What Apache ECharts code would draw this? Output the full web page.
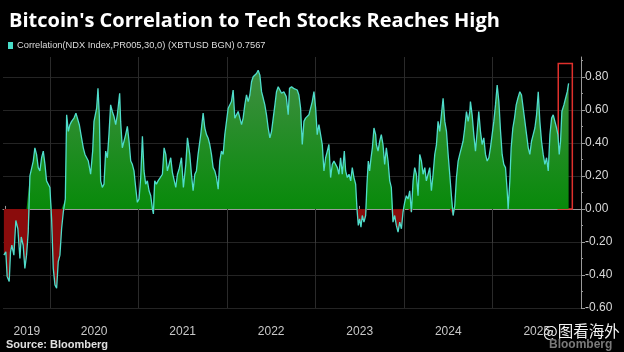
<!DOCTYPE html>
<html>
<head>
<meta charset="utf-8">
<script src="https://cdn.jsdelivr.net/npm/echarts@6/dist/echarts.min.js"></script>
<style>
  html, body { margin: 0; padding: 0; background: #000; }
  #chart { width: 624px; height: 352px; }
</style>
</head>
<body>
<div id="chart"></div>
<script>
const titleText = "Bitcoin's Correlation to Tech Stocks Reaches High"
const seriesName = 'Correlation(NDX Index,PR005,30,0) (XBTUSD BGN) 0.7567'

// x positions as decimal years, one line per stretch of the chart
const yearFrac = [
  2019.480,2019.502,2019.517,2019.540,2019.555,2019.570,2019.593,2019.615,2019.638,2019.661,2019.676,2019.698,2019.717,2019.736,2019.755,2019.774,2019.793,2019.812,2019.830,2019.849,2019.868,2019.887,2019.906,2019.925,2019.944,2019.962,2019.981,2020.000,2020.019,2020.038,2020.057,2020.076,2020.094,2020.113,2020.132,2020.151,2020.174,2020.189,2020.208,2020.226,2020.245,2020.272,2020.294,2020.313,2020.332,2020.351,2020.377,2020.396,2020.415,2020.434,2020.460,2020.483,
  2020.498,2020.528,2020.543,2020.558,2020.573,2020.592,2020.611,2020.630,2020.649,2020.667,2020.686,2020.705,2020.724,2020.743,2020.762,2020.788,2020.799,2020.818,2020.837,2020.856,2020.875,2020.894,2020.913,2020.931,2020.950,2020.969,2020.988,2021.007,2021.026,2021.045,2021.063,2021.082,2021.101,2021.120,2021.139,2021.158,2021.169,2021.184,2021.203,2021.222,2021.244,2021.271,2021.290,2021.309,2021.327,2021.346,2021.365,2021.384,2021.403,2021.422,2021.441,2021.459,2021.486,2021.508,2021.535,2021.554,
  2021.561,2021.580,2021.599,2021.618,2021.637,2021.655,2021.674,2021.704,2021.731,2021.750,2021.769,2021.787,2021.806,2021.825,2021.844,2021.863,2021.882,2021.901,2021.919,2021.938,2021.957,2021.976,2021.995,2022.014,2022.033,2022.051,2022.070,2022.089,2022.108,2022.127,2022.146,2022.165,2022.183,2022.202,2022.221,2022.240,2022.259,2022.278,2022.296,2022.315,2022.334,2022.353,2022.372,2022.391,2022.410,2022.428,2022.447,2022.466,2022.485,2022.504,2022.523,2022.542,2022.560,2022.579,2022.598,2022.617,
  2022.624,2022.643,2022.670,2022.692,2022.707,2022.730,2022.753,2022.775,2022.794,2022.813,2022.832,2022.851,2022.870,2022.888,2022.907,2022.926,2022.945,2022.964,2022.983,2023.002,2023.020,2023.039,2023.058,2023.077,2023.096,2023.115,2023.134,2023.152,2023.171,2023.190,2023.209,2023.228,2023.247,2023.265,2023.284,2023.303,2023.326,2023.341,2023.360,2023.379,2023.398,2023.416,2023.435,2023.454,2023.469,2023.484,2023.499,2023.514,2023.529,2023.548,2023.567,2023.582,2023.597,2023.612,2023.628,2023.643,2023.661,2023.680,
  2023.688,2023.707,2023.726,2023.744,2023.763,2023.782,2023.801,2023.820,2023.839,2023.857,2023.876,2023.895,2023.914,2023.933,2023.952,2023.971,2023.989,2024.008,2024.027,2024.046,2024.065,2024.084,2024.103,2024.121,2024.140,2024.159,2024.178,2024.197,2024.216,2024.235,2024.253,2024.272,2024.291,2024.310,2024.329,2024.348,2024.367,2024.385,2024.404,2024.423,2024.442,2024.461,2024.480,2024.499,2024.517,2024.536,2024.555,2024.574,2024.593,2024.612,2024.630,2024.649,2024.668,2024.687,2024.706,2024.725,2024.744,
  2024.751,2024.770,2024.789,2024.808,2024.827,2024.845,2024.864,2024.883,2024.902,2024.921,2024.940,2024.959,2024.977,2024.996,2025.015,2025.034,2025.053,2025.072,2025.091,2025.109,2025.128,2025.147,2025.166,2025.177,2025.196,2025.211,2025.230,2025.249,2025.268,2025.287,2025.309,2025.328,2025.347,2025.366,2025.385,2025.404,2025.422,2025.441,2025.460,2025.479,2025.498,2025.517,2025.535,2025.554,2025.573,2025.592,2025.611,2025.630,2025.649,2025.668,2025.686,2025.705,2025.724,2025.739,2025.754,2025.769,2025.784,2025.807,2025.826,2025.845,2025.860
]

const corr = [
  -0.28,-0.26,-0.41,-0.44,-0.26,-0.22,-0.28,-0.07,-0.12,-0.30,-0.17,-0.22,-0.36,-0.28,-0.14,0.20,0.19,0.29,0.37,0.33,0.25,0.23,0.31,0.35,0.27,0.17,0.18,0.13,-0.06,-0.36,-0.46,-0.48,-0.32,-0.28,-0.12,-0.02,0.06,0.57,0.47,0.51,0.53,0.55,0.58,0.57,0.51,0.45,0.37,0.33,0.34,0.29,0.21,0.35,
  0.53,0.61,0.73,0.57,0.17,0.13,0.15,0.35,0.31,0.45,0.63,0.59,0.56,0.51,0.57,0.70,0.53,0.37,0.41,0.45,0.50,0.41,0.29,0.27,0.23,0.13,0.04,0.06,0.19,0.44,0.23,0.15,0.17,0.11,0.08,0.00,-0.03,0.17,0.15,0.17,0.16,0.21,0.37,0.33,0.23,0.27,0.31,0.22,0.21,0.13,0.21,0.24,0.31,0.13,0.27,0.43,
  0.43,0.33,0.21,0.11,0.21,0.23,0.33,0.45,0.58,0.49,0.45,0.43,0.39,0.33,0.25,0.23,0.19,0.12,0.29,0.35,0.33,0.45,0.53,0.61,0.62,0.65,0.72,0.55,0.54,0.59,0.55,0.51,0.55,0.63,0.69,0.65,0.69,0.77,0.80,0.79,0.82,0.84,0.81,0.71,0.67,0.63,0.57,0.49,0.43,0.47,0.55,0.63,0.71,0.74,0.72,0.70,
  0.69,0.71,0.68,0.57,0.73,0.74,0.73,0.74,0.72,0.69,0.61,0.39,0.53,0.55,0.56,0.57,0.58,0.65,0.71,0.61,0.45,0.51,0.45,0.39,0.23,0.31,0.35,0.39,0.19,0.27,0.29,0.27,0.25,0.21,0.31,0.21,0.35,0.23,0.19,0.21,0.17,0.25,0.19,0.15,0.00,-0.10,-0.06,-0.11,-0.04,-0.08,-0.04,0.15,0.29,0.23,0.31,0.37,0.49,0.45,
  0.39,0.35,0.41,0.45,0.39,0.27,0.37,0.29,0.17,0.13,-0.08,-0.04,-0.10,-0.14,-0.08,-0.12,-0.02,0.04,0.08,0.06,0.11,-0.02,0.17,0.25,0.21,0.08,0.33,0.29,0.21,0.25,0.17,0.21,0.25,0.11,0.21,0.33,0.39,0.53,0.47,0.57,0.67,0.53,0.47,0.33,0.21,0.08,-0.04,0.02,0.19,0.29,0.33,0.37,0.41,0.49,0.59,0.53,0.59,
  0.65,0.57,0.45,0.35,0.47,0.59,0.47,0.39,0.43,0.33,0.29,0.31,0.37,0.45,0.53,0.63,0.75,0.65,0.47,0.33,0.27,0.25,0.11,0.00,0.17,0.37,0.49,0.55,0.63,0.67,0.71,0.69,0.68,0.53,0.45,0.37,0.33,0.41,0.45,0.49,0.57,0.71,0.53,0.41,0.33,0.27,0.31,0.23,0.45,0.55,0.57,0.53,0.49,0.45,0.33,0.41,0.59,0.63,0.67,0.71,0.76
]

const yearLabelPos = [2019.74, 2020.5, 2021.5, 2022.5, 2023.5, 2024.5, 2025.5]
const yearStarts = [2020, 2021, 2022, 2023, 2024, 2025]
const quarterTicks = [2019.5, 2019.75, 2020.25, 2020.5, 2020.75, 2021.25, 2021.5, 2021.75, 2022.25, 2022.5, 2022.75,
  2023.25, 2023.5, 2023.75, 2024.25, 2024.5, 2024.75, 2025.25, 2025.5, 2025.75]
const yLabels = [-0.6, -0.4, -0.2, 0, 0.2, 0.4, 0.6, 0.8]
const yMinorTicks = [-0.5, -0.3, -0.1, 0.1, 0.3, 0.5, 0.7, 0.9]
const boxFrom = [2025.743, 0]
const boxTo = [2025.902, 0.88]

const xMin = 2019.47
const xMax = 2026.0
const yMin = -0.6
const yMax = 0.92

const lineData = yearFrac.map((t, i) => [t, corr[i]])
const posData = yearFrac.map((t, i) => [t, Math.max(corr[i], 0)])
const negData = yearFrac.map((t, i) => [t, Math.min(corr[i], 0)])

const chart = echarts.init(document.getElementById('chart'))

chart.setOption({
  backgroundColor: '#000',
  animation: false,
  title: {
    text: titleText,
    left: 4,
    top: 6,
    textStyle: { color: '#fff', fontSize: 20, fontWeight: 'bold', fontFamily: 'Open Sans' }
  },
  legend: {
    data: [{ name: seriesName, icon: 'rect' }],
    left: 8,
    top: 41,
    itemWidth: 5,
    itemHeight: 7,
    itemGap: 4,
    padding: 0,
    textStyle: { color: '#dcdcdc', fontSize: 9.3, fontFamily: 'Liberation Sans', padding: [0, 0, 0, -1] }
  },
  grid: { left: 3, right: 43, top: 57, bottom: 44 },
  xAxis: [
    {
      type: 'value',
      min: xMin,
      max: xMax,
      position: 'bottom',
      axisLine: { show: true, lineStyle: { color: '#9a9a9a', width: 1 } },
      axisTick: { show: true, inside: true, length: 3, customValues: quarterTicks, lineStyle: { color: '#9a9a9a' } },
      axisLabel: {
        customValues: yearLabelPos,
        formatter: v => String(Math.floor(v)),
        color: '#c8c8c8',
        fontSize: 12,
        margin: 18,
        fontFamily: 'Liberation Sans'
      },
      splitLine: { show: false }
    },
    {
      // year separators
      type: 'value',
      min: xMin,
      max: xMax,
      position: 'bottom',
      offset: 0,
      axisLine: { show: false },
      axisTick: { show: true, length: 34, customValues: yearStarts, lineStyle: { color: '#3c3c3c' } },
      axisLabel: { show: false },
      splitLine: { show: true, lineStyle: { color: '#2a2a2a' } }
    }
  ],
  yAxis: [
    {
      type: 'value',
      position: 'right',
      min: yMin,
      max: yMax,
      axisLine: { show: true, lineStyle: { color: '#9a9a9a' } },
      axisTick: { show: true, length: 4, customValues: yLabels, lineStyle: { color: '#9a9a9a' } },
      axisLabel: {
        customValues: yLabels,
        formatter: v => v.toFixed(2),
        color: '#d8d8d8',
        fontSize: 12,
        margin: 4,
        fontFamily: 'Liberation Sans'
      },
      splitLine: { show: true, lineStyle: { color: '#242424' } }
    },
    {
      type: 'value',
      position: 'right',
      min: yMin,
      max: yMax,
      axisLine: { show: false },
      axisTick: { show: true, length: 2, customValues: yMinorTicks, lineStyle: { color: '#9a9a9a' } },
      axisLabel: { show: false },
      splitLine: { show: false }
    }
  ],
  graphic: [
    {
      type: 'text',
      left: 6,
      top: 339,
      style: { text: 'Source: Bloomberg', fill: '#e0e0e0', font: 'bold 11px "Liberation Sans"' }
    },
    {
      type: 'text',
      left: 543,
      top: 323,
      style: { text: '@图看海外', fill: '#f4f4f4', font: '15.5px "Noto Sans CJK SC"' }
    },
    {
      type: 'text',
      left: 549,
      top: 339,
      style: { text: 'Bloomberg', fill: '#7a7a7a', font: 'bold 12px "Liberation Sans"' }
    }
  ],
  series: [
    {
      name: 'above',
      type: 'line',
      data: posData,
      showSymbol: false,
      silent: true,
      lineStyle: { opacity: 0 },
      areaStyle: {
        opacity: 1,
        color: new echarts.graphic.LinearGradient(0, 0, 0, 1, [
          { offset: 0, color: '#3f8f42' },
          { offset: 1, color: '#088a0a' }
        ])
      },
      z: 2
    },
    {
      name: 'below',
      type: 'line',
      data: negData,
      showSymbol: false,
      silent: true,
      lineStyle: { opacity: 0 },
      areaStyle: { opacity: 1, color: '#8a0c0c' },
      z: 2
    },
    {
      name: seriesName,
      type: 'line',
      data: lineData,
      color: '#48dcc8',
      showSymbol: false,
      lineStyle: { color: '#4fdcca', width: 1.3 },
      z: 3,
      markArea: {
        silent: true,
        itemStyle: { color: 'rgba(0,0,0,0)', borderColor: '#e0302c', borderWidth: 1.5 },
        data: [[{ coord: boxFrom }, { coord: boxTo }]]
      }
    }
  ]
})
</script>
</body>
</html>
